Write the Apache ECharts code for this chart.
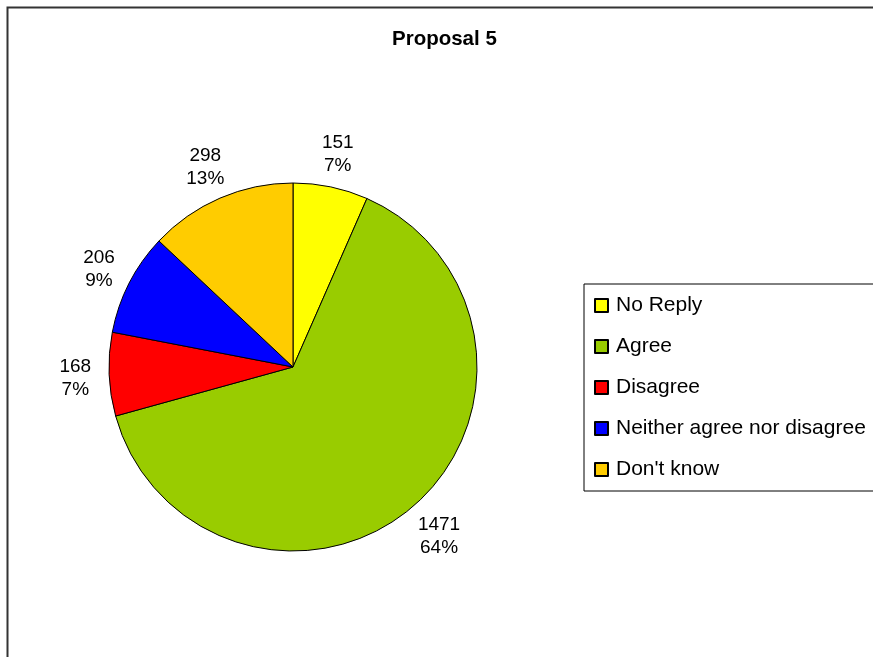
<!DOCTYPE html>
<html>
<head>
<meta charset="utf-8">
<script src="https://cdn.jsdelivr.net/npm/echarts@6/dist/echarts.min.js"></script>
<style>
html,body{margin:0;padding:0;background:#fff;}
#c{width:873px;height:657px;}
</style>
</head>
<body>
<div id="c"></div>
<script>
const titleText = 'Proposal 5';
const categories = ['No Reply', 'Agree', 'Disagree', 'Neither agree nor disagree', "Don't know"];
const values = [151, 1471, 168, 206, 298];
const colors = ['#FFFF00', '#99CC00', '#FF0000', '#0000FF', '#FFCC00'];

const FONT = '"Liberation Sans", Arial, sans-serif';
const chart = echarts.init(document.getElementById('c'), null, {renderer: 'canvas'});

const data = categories.map((name, i) => ({
  name: name,
  value: values[i],
  itemStyle: {color: colors[i]}
}));

chart.setOption({
  backgroundColor: '#ffffff',
  animation: false,
  title: {
    text: titleText,
    left: 392,
    top: 29,
    padding: 0,
    textStyle: {fontFamily: FONT, fontSize: 20.5, fontWeight: 'bold', color: '#000'}
  },
  legend: {
    orient: 'vertical',
    left: 584,
    top: 284,
    padding: [11, 12, 11, 10],
    backgroundColor: '#fff',
    borderColor: '#000',
    borderWidth: 1,
    borderRadius: 0,
    icon: 'rect',
    itemWidth: 13,
    itemHeight: 13,
    itemGap: 20,
    selectedMode: false,
    textStyle: {fontFamily: FONT, fontSize: 21, color: '#000', padding: [0, 0, 0, 3]},
    data: categories
  },
  graphic: [{
    type: 'rect',
    shape: {x: 7.5, y: 7.5, width: 900, height: 700},
    style: {fill: 'none', stroke: '#333', lineWidth: 2},
    silent: true,
    z: 100
  }],
  series: [{
    type: 'pie',
    center: [293, 367],
    radius: 184,
    startAngle: 90,
    clockwise: true,
    avoidLabelOverlap: false,
    percentPrecision: 0,
    itemStyle: {borderColor: '#000', borderWidth: 1},
    emphasis: {disabled: true},
    label: {
      show: true,
      position: 'outside',
      formatter: '{c}\n{d}%',
      fontFamily: FONT,
      fontSize: 19,
      lineHeight: 23,
      color: '#000'
    },
    labelLine: {show: false, length: 10, length2: 0},
    labelLayout: function (params) {
      try {
        const lay = chart.getModel().getSeriesByIndex(params.seriesIndex).getData().getItemLayout(params.dataIndex);
        const mid = (lay.startAngle + lay.endAngle) / 2;
        const dx = Math.cos(mid), dy = Math.sin(mid);
        const w = params.labelRect.width, h = params.labelRect.height, gap = 18;
        return {
          x: lay.cx + dx * (lay.r + gap) + dx * w / 2,
          y: lay.cy + dy * (lay.r + gap) + dy * h * 0.4 + 3,
          align: 'center',
          verticalAlign: 'middle'
        };
      } catch (e) {
        return {};
      }
    },
    data: data
  }]
});
</script>
</body>
</html>
